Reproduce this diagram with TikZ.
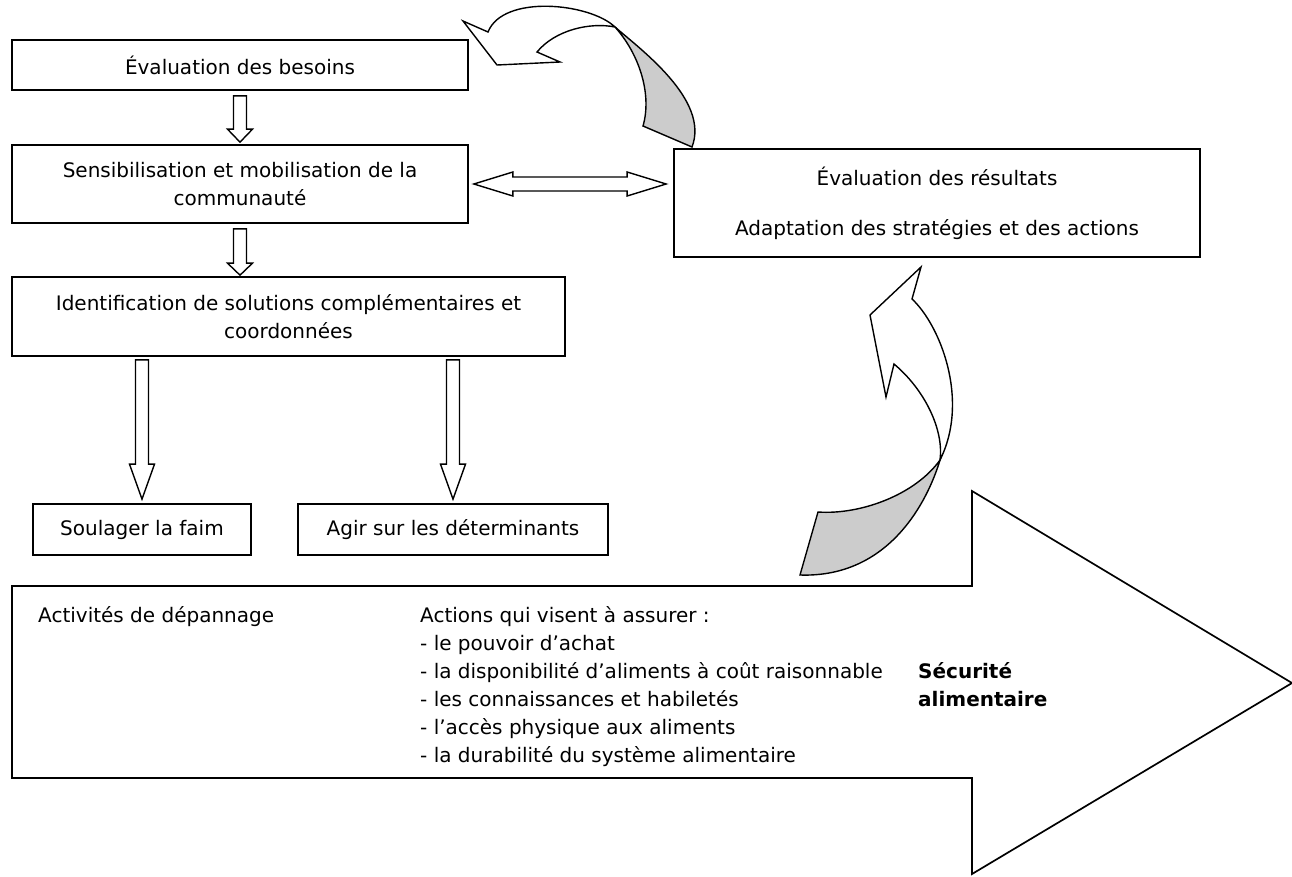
\documentclass[tikz,border=0pt]{standalone}
\usepackage{fontspec}
\setmainfont{DejaVu Sans}
\usetikzlibrary{calc,positioning}

% hollow block arrow pointing down: #1 top of shaft, #2 tip, #3 head length
\newcommand{\hollowdown}[3]{%
  \draw[hollow] let \p1=#1, \p2=#2 in
    (\x1-6.5pt,\y1) -- (\x1+6.5pt,\y1) -- (\x1+6.5pt,\y2+#3) -- (\x1+12.5pt,\y2+#3)
    -- (\x1,\y2) -- (\x1-12.5pt,\y2+#3) -- (\x1-6.5pt,\y2+#3) -- cycle;}

\begin{document}
\begin{tikzpicture}[
    x = 1pt, y = -1pt,
    every node/.style = {font=\fontsize{20}{28}\selectfont},
    box/.style = {draw, line width=1.7pt, inner sep=0, align=center},
    txt/.style = {inner sep=0, anchor=north west, align=left},
    hollow/.style = {draw, line width=1.4pt, fill=white},
    twist/.style = {draw, line width=1.4pt, fill=black!20}
  ]
  \useasboundingbox (0,0) rectangle (1292,876);

  \node [box, minimum width=456pt, minimum height=50pt] (besoins) at (240,65) {Évaluation des besoins};
  \node [box, minimum width=456pt, minimum height=78pt] (sensib) at (240,184)
    {Sensibilisation et mobilisation de la\\communauté};
  \node [box, minimum width=553pt, minimum height=79pt] (solutions) at (288.5,316.5)
    {Identification de solutions complémentaires et\\coordonnées};
  \node [box, minimum width=526pt, minimum height=108pt] (evalres) at (937,203)
    {Évaluation des résultats\\[22pt]Adaptation des stratégies et des actions};
  \node [box, minimum width=218pt, minimum height=51pt] (faim) at (142,529.5) {Soulager la faim};
  \node [box, minimum width=310pt, minimum height=51pt] (determ) at (453,529.5) {Agir sur les déterminants};

  % big arrow
  \draw [line width=1.7pt] (12,586) -- (972,586) -- (972,491) -- (1292,683) -- (972,874)
    -- (972,778) -- (12,778) -- cycle;
  \node [txt] (depannage) at (38,606) {Activités de dépannage};
  \node [txt] (actions) at (420,606) {Actions qui visent à assurer :\\- le pouvoir d'achat\\
    - la disponibilité d'aliments à coût raisonnable\\- les connaissances et habiletés\\
    - l'accès physique aux aliments\\- la durabilité du système alimentaire};
  \node [txt, font=\fontsize{20}{28}\selectfont\bfseries] (securite) at (918,662) {Sécurité\\alimentaire};

  % block arrows
  \hollowdown{($(besoins.south)+(0,5)$)}{($(sensib.north)+(0,-2)$)}{13pt}
  \hollowdown{($(sensib.south)+(0,5)$)}{($(solutions.north)+(0,-1)$)}{12pt}
  \hollowdown{($(solutions.south -| faim.north)+(0,3)$)}{($(faim.north)+(0,-4)$)}{35pt}
  \hollowdown{($(solutions.south -| determ.north)+(0,3)$)}{($(determ.north)+(0,-4)$)}{35pt}
  \draw [hollow] let \p1=($(sensib.east)+(5,0)$), \p2=($(evalres.west)+(-7,0)$) in
    (\x1,\y1) -- (\x1+39pt,\y1+12pt) -- (\x1+39pt,\y1+7pt) -- (\x2-39pt,\y1+7pt)
    -- (\x2-39pt,\y1+12pt) -- (\x2,\y1) -- (\x2-39pt,\y1-12pt) -- (\x2-39pt,\y1-7pt)
    -- (\x1+39pt,\y1-7pt) -- (\x1+39pt,\y1-12pt) -- cycle;

  % curved arrows
  \draw [twist] (615,27) .. controls (640,49) and (710,100) .. (692,147)
    -- (643,126) .. controls (652,95) and (640,55) .. (615,27) -- cycle;
  \draw [hollow] (488,32) .. controls (503,-6) and (590,3) .. (615,27)
    .. controls (590,22) and (555,30) .. (537,52)
    -- (560,62) -- (497,65) -- (463,21) -- cycle;
  \draw [twist] (940,460) .. controls (928,500) and (890,578) .. (800,575)
    -- (818,512) .. controls (860,515) and (915,495) .. (940,460) -- cycle;
  \draw [hollow] (921,267) -- (912,299) .. controls (940,325) and (970,400) .. (940,460)
    .. controls (944,430) and (925,390) .. (894,364)
    -- (886,397) -- (870,315) -- cycle;
\end{tikzpicture}
\end{document}
